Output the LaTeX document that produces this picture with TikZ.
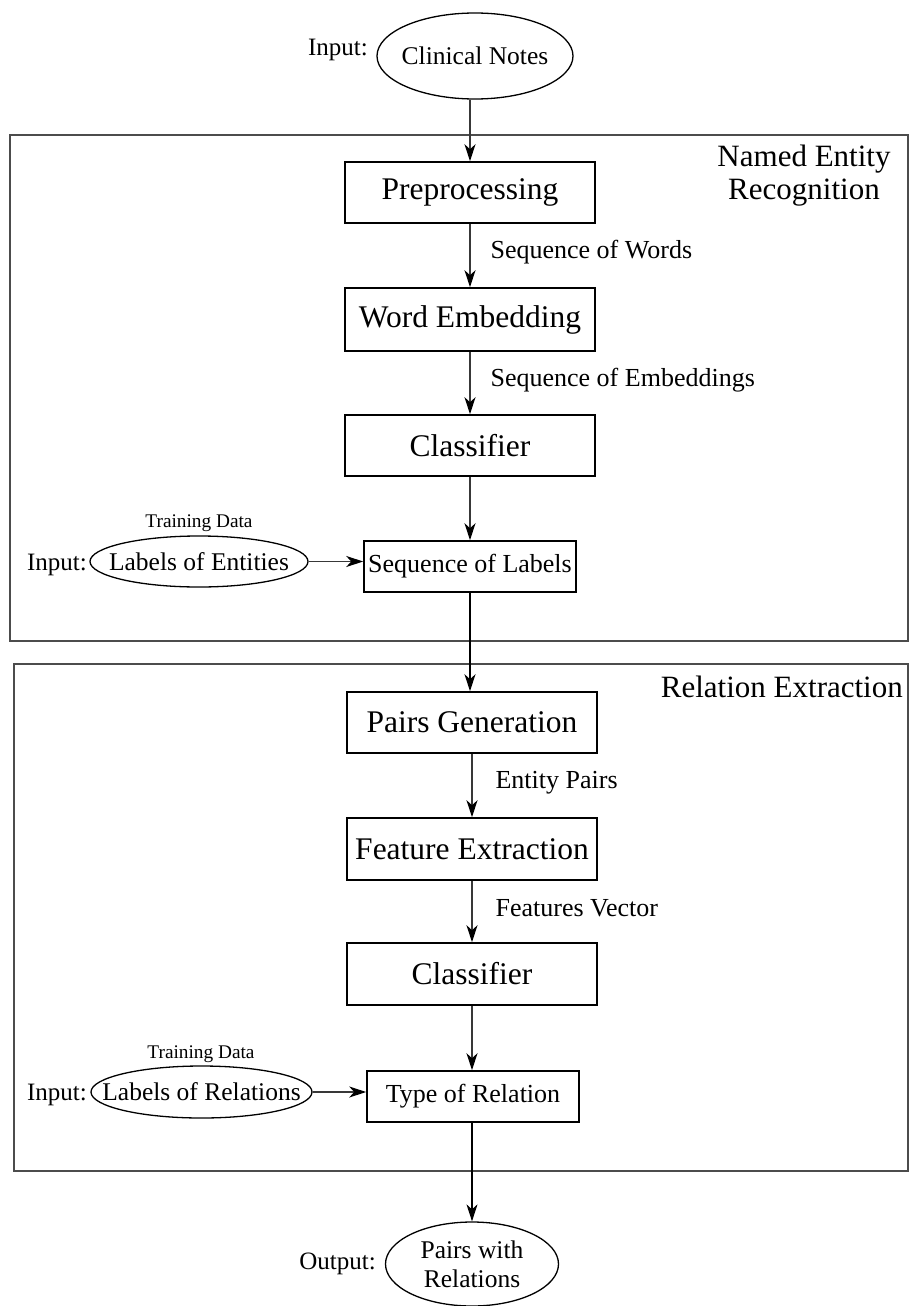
\documentclass[tikz,border=0pt]{standalone}
\usepackage{fontspec}
\setmainfont{Liberation Serif}
\usetikzlibrary{shapes.geometric,arrows.meta}

\tikzset{
  stagebox/.style={draw, line width=1.6pt, rectangle, inner sep=0pt,
    minimum width=250pt, minimum height=61pt, font=\fontsize{31.5}{34}\selectfont},
  smallbox/.style={draw, line width=1.6pt, rectangle, inner sep=0pt,
    minimum width=212pt, minimum height=51pt, font=\fontsize{26}{28}\selectfont},
  oval/.style={draw, line width=1.3pt, ellipse, inner sep=0pt},
  ovaltext/.style={inner sep=0pt, align=center, font=\fontsize{25.5}{29}\selectfont},
  frame/.style={draw=black!70, line width=1.4pt},
  conn/.style={draw=black!78, line width=1.2pt,
    -{Stealth[length=17pt,width=11pt,inset=5pt,color=black]}},
  flowlabel/.style={anchor=west, inner sep=0pt, font=\fontsize{26}{28}\selectfont},
  tag/.style={inner sep=0pt, font=\fontsize{25}{28}\selectfont},
  hint/.style={inner sep=0pt, font=\fontsize{19.3}{21}\selectfont},
  heading/.style={inner sep=0pt, align=center, font=\fontsize{31}{33}\selectfont},
}

\begin{document}
\begin{tikzpicture}[x=1pt, y=-1pt]
\useasboundingbox[fill=white] (0,0) rectangle (911,1306);

% section frames
\draw[frame] (10,135) rectangle (908,641);
\draw[frame] (14,664) rectangle (908,1171);
\node[heading] (nerTitle) at (804,176) {Named Entity\\Recognition};
\node[heading, anchor=east] (reTitle) at (903,687) {Relation Extraction};

% input
\node[oval, minimum width=196pt, minimum height=86pt] (notes) at (475,56) {};
\node[ovaltext] (notesText) at (notes.center) {Clinical Notes};
\node[tag, anchor=east] (inNotes) at (368,50) {Input:};

% named entity recognition
\node[stagebox] (pre) at (470,192.5) {Preprocessing};
\node[stagebox, minimum height=63pt] (emb) at (470,319.5) {Word Embedding};
\node[stagebox] (cls1) at (470,445.5) {Classifier};
\node[smallbox] (seqlab) at (470,566.5) {Sequence of Labels};
\node[oval, minimum width=218pt, minimum height=51pt] (labEnt) at (199,561.5) {};
\node[ovaltext] (labEntText) at (labEnt.center) {Labels of Entities};
\node[hint] (tdEnt) at (199,523) {Training Data};
\node[tag, anchor=base east] (inEnt) at (87,0 |- labEntText.base) {Input:};

% relation extraction
\node[stagebox] (pairs) at (472,722.5) {Pairs Generation};
\node[stagebox, minimum height=62pt] (feat) at (472,849) {Feature Extraction};
\node[stagebox, minimum height=62pt] (cls2) at (472,974) {Classifier};
\node[smallbox] (rel) at (473,1096.5) {Type of Relation};
\node[oval, minimum width=221pt, minimum height=52pt] (labRel) at (201.5,1092) {};
\node[ovaltext] (labRelText) at (labRel.center) {Labels of Relations};
\node[hint] (tdRel) at (201,1054) {Training Data};
\node[tag, anchor=base east] (inRel) at (87,0 |- labRelText.base) {Input:};

% output
\node[oval, minimum width=173pt, minimum height=84pt] (out) at (472,1264) {};
\node[ovaltext] (outText) at (out.center) {Pairs with\\Relations};
\node[tag, anchor=east] (outTag) at (376,1264) {Output:};

% flow
\draw[conn] (pre.north |- notes.south) -- (pre.north);
\draw[conn] (pre.south) -- node[flowlabel, pos=0.45, xshift=20pt] {Sequence of Words} (emb.north);
\draw[conn] (emb.south) -- node[flowlabel, pos=0.45, xshift=20pt] {Sequence of Embeddings} (cls1.north);
\draw[conn] (cls1.south) -- (seqlab.north);
\draw[conn] (labEnt.east) -- (seqlab.west |- labEnt.east);
\draw[conn, draw=black] (seqlab.south) -- (seqlab.south |- pairs.north);
\draw[conn] (pairs.south) -- node[flowlabel, pos=0.45, xshift=23pt] {Entity Pairs} (feat.north);
\draw[conn] (feat.south) -- node[flowlabel, pos=0.45, xshift=23pt] {Features Vector} (cls2.north);
\draw[conn] (cls2.south) -- (cls2.south |- rel.north);
\draw[conn] (labRel.east) -- (rel.west |- labRel.east);
\draw[conn, draw=black] (rel.south -| out.north) -- (out.north);
\end{tikzpicture}
\end{document}
